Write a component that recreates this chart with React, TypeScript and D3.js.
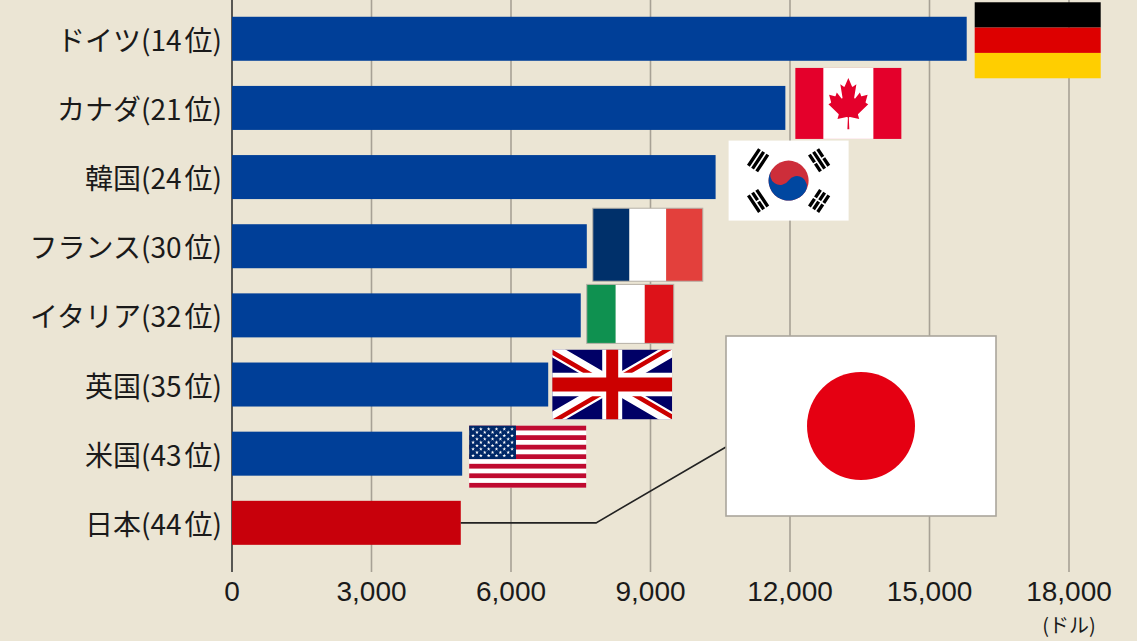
import { useEffect } from "react";
import * as d3 from "d3";

const countries = ["ドイツ", "カナダ", "韓国", "フランス", "イタリア", "英国", "米国", "日本"];
const ranks = [14, 21, 24, 30, 32, 35, 43, 44];
const values = [15800, 11900, 10400, 7630, 7500, 6800, 4950, 4920];
const flagCodes = ["de", "ca", "kr", "fr", "it", "gb", "us", "jp"];
const xTicks = [0, 3000, 6000, 9000, 12000, 15000, 18000];
const unitLabel = "(ドル)";

const W = 1137;
const H = 641;
const GRID_BOTTOM = 572;

// flag size, gap after the bar end, vertical nudge from bar centre
const flagStyle: Record<string, { w: number; h: number; gap: number; dy: number }> = {
  de: { w: 126, h: 76, gap: 8, dy: 1.5 },
  ca: { w: 106, h: 71, gap: 10, dy: -4.5 },
  kr: { w: 120, h: 80, gap: 13, dy: 3.5 },
  fr: { w: 110, h: 73, gap: 6, dy: -1.5 },
  it: { w: 87, h: 59, gap: 6, dy: -1.5 },
  gb: { w: 120, h: 70, gap: 4, dy: 0 },
  us: { w: 117, h: 62, gap: 7, dy: 3 },
};
const japanFlag = { x: 726, y: 336, w: 270, h: 180 };

const LEAF =
  "m-90 2030 45-863a95 95 0 0 0-111-98l-859 151 116-320a65 65 0 0 0-20-73l-941-762 212-99a65 65 0 0 0 34-79l-186-572 542 115a65 65 0 0 0 73-38l105-247 423 454a65 65 0 0 0 111-57l-204-1052 327 189a65 65 0 0 0 91-27l332-652 332 652a65 65 0 0 0 91 27l327-189-204 1052a65 65 0 0 0 111 57l423-454 105 247a65 65 0 0 0 73 38l542-115-186 572a65 65 0 0 0 34 79l212 99-941 762a65 65 0 0 0-20 73l116 320-859-151a95 95 0 0 0-111 98l45 863z";

function Trigram({ y0 }: { y0: number }) {
  return (
    <path
      d={[0, 3, 6].map((k) => `M-6 ${y0 + k}H6`).join("")}
      stroke="#000"
      strokeWidth={2}
    />
  );
}

function Flag({ code, w, h }: { code: string; w: number; h: number }) {
  if (code === "de") {
    return (
      <g>
        <rect width={w} height={h / 3} fill="#000" />
        <rect y={h / 3} width={w} height={h / 3} fill="#dd0000" />
        <rect y={(2 * h) / 3} width={w} height={h / 3} fill="#ffce00" />
      </g>
    );
  }
  if (code === "ca") {
    const side = w * 0.264;
    return (
      <g>
        <rect width={w} height={h} fill="#e4002b" />
        <rect x={side} width={w - 2 * side} height={h} fill="#fff" />
        <path d={LEAF} fill="#e4002b" transform={`translate(${w / 2},${h * 0.5}) scale(0.0107,0.0127)`} />
      </g>
    );
  }
  if (code === "kr") {
    return (
      <g>
        <rect width={w} height={h} fill="#fff" />
        <g transform={`translate(${w / 2},${h / 2}) scale(${w / 72},${h / 48})`}>
          <g transform="rotate(-56.31)">
            <Trigram y0={-25} />
            <Trigram y0={19} />
            <path d="M0 17v10" stroke="#fff" strokeWidth={1} />
            <circle r={12} fill="#cd2e3a" />
            <path d="M0-12A6 6 0 0 0 0 0A6 6 0 0 1 0 12A12 12 0 0 1 0-12z" fill="#0047a0" />
          </g>
          <g transform="rotate(-123.69)">
            <Trigram y0={-25} />
            <Trigram y0={19} />
            <path d="M0-23.5v3M0 17v3.5M0 23.5v3" stroke="#fff" strokeWidth={1} />
          </g>
        </g>
      </g>
    );
  }
  if (code === "fr" || code === "it") {
    const cols = code === "fr" ? ["#00306a", "#fff", "#e3403c"] : ["#0f9150", "#fff", "#dd1219"];
    return (
      <g>
        {cols.map((c, i) => (
          <rect key={i} x={(i * w) / 3} width={w / 3} height={h} fill={c} />
        ))}
        <rect width={w} height={h} fill="none" stroke="#b5b0a6" strokeWidth={1} />
      </g>
    );
  }
  if (code === "gb") {
    return (
      <g transform={`scale(${w / 60},${h / 30})`}>
        <defs>
          <clipPath id="gb-s">
            <path d="M0 0v30h60V0z" />
          </clipPath>
          <clipPath id="gb-t">
            <path d="M30 15h30v15zv15H0zH0V0zV0h30z" />
          </clipPath>
        </defs>
        <g clipPath="url(#gb-s)">
          <path d="M0 0v30h60V0z" fill="#000066" />
          <path d="M0 0L60 30M60 0L0 30" stroke="#fff" strokeWidth={6} />
          <path d="M0 0L60 30M60 0L0 30" clipPath="url(#gb-t)" stroke="#cc0000" strokeWidth={4} />
          <path d="M30 0v30M0 15h60" stroke="#fff" strokeWidth={10} />
          <path d="M30 0v30M0 15h60" stroke="#cc0000" strokeWidth={6} />
        </g>
      </g>
    );
  }
  if (code === "us") {
    const sh = h / 13;
    const cw = w * 0.4;
    const ch = sh * 7;
    const star = d3.symbol(d3.symbolStar, 4.5)() as string;
    const stars: [number, number][] = [];
    for (let r = 0; r < 9; r++) {
      const n = r % 2 === 0 ? 6 : 5;
      for (let c = 0; c < n; c++) {
        const col = r % 2 === 0 ? c * 2 + 1 : c * 2 + 2;
        stars.push([(col * cw) / 12, ((r + 1) * ch) / 10]);
      }
    }
    return (
      <g>
        <rect width={w} height={h} fill="#fff" />
        {d3.range(7).map((i) => (
          <rect key={i} y={i * 2 * sh} width={w} height={sh} fill="#bf0a30" />
        ))}
        <rect width={cw} height={ch} fill="#002868" />
        {stars.map(([sx, sy], i) => (
          <path key={i} d={star} transform={`translate(${sx},${sy})`} fill="#fff" />
        ))}
      </g>
    );
  }
  return null;
}

export default function App() {
  useEffect(() => {
    document.body.style.margin = "0";
  }, []);

  const x = d3.scaleLinear().domain([0, 18000]).range([232, 1069]);
  const y = d3
    .scaleBand<string>()
    .domain(countries)
    .range([4.2, 557.4])
    .paddingInner(0.3636)
    .paddingOuter(0.1818);
  const bw = y.bandwidth();
  const last = countries.length - 1;
  const jy = (y(countries[last]) as number) + bw / 2;

  const leader = d3.line()([
    [x(values[last]), jy],
    [x(7830), jy],
    [japanFlag.x, 447],
  ]) as string;

  return (
    <svg width={W} height={H} style={{ display: "block", background: "#ebe5d4" }}>
      <rect width={W} height={H} fill="#ebe5d4" />

      {/* grid */}
      {xTicks.slice(1).map((t) => (
        <line key={t} x1={x(t)} x2={x(t)} y1={0} y2={GRID_BOTTOM} stroke="#a7a195" strokeWidth={1.6} />
      ))}
      <line x1={x(0)} x2={x(0)} y1={0} y2={GRID_BOTTOM} stroke="#333" strokeWidth={1.6} />

      {/* bars */}
      {countries.map((c, i) => (
        <rect
          key={c}
          x={x(0)}
          y={y(c)}
          width={x(values[i]) - x(0)}
          height={bw}
          fill={i === last ? "#c8000b" : "#003f98"}
        />
      ))}

      {/* leader line to the Japanese flag */}
      <path d={leader} fill="none" stroke="#222" strokeWidth={1.6} />

      {/* flags */}
      {countries.map((c, i) => {
        const code = flagCodes[i];
        const s = flagStyle[code];
        if (!s) return null;
        const cy = (y(c) as number) + bw / 2 + s.dy;
        return (
          <g key={code} transform={`translate(${x(values[i]) + s.gap},${cy - s.h / 2})`}>
            <Flag code={code} w={s.w} h={s.h} />
          </g>
        );
      })}
      <rect
        x={japanFlag.x}
        y={japanFlag.y}
        width={japanFlag.w}
        height={japanFlag.h}
        fill="#fff"
        stroke="#aaa69c"
        strokeWidth={1.6}
      />
      <circle
        cx={japanFlag.x + japanFlag.w / 2}
        cy={japanFlag.y + japanFlag.h / 2}
        r={japanFlag.h * 0.3}
        fill="#e50012"
      />

      {/* category labels */}
      {countries.map((c, i) => (
        <text
          key={c}
          x={222}
          y={(y(c) as number) + bw / 2}
          textAnchor="end"
          dominantBaseline="central"
          fontFamily="'Noto Sans CJK JP', sans-serif"
          fontSize={28}
          fill="#1a1a1a"
        >
          {c}({ranks[i]}
          <tspan dx={3}>位</tspan>)
        </text>
      ))}

      {/* x tick labels */}
      {xTicks.map((t) => (
        <text
          key={t}
          x={x(t)}
          y={601}
          textAnchor="middle"
          fontFamily="'Liberation Sans', Arial, sans-serif"
          fontSize={28}
          fill="#1a1a1a"
        >
          {d3.format(",")(t)}
        </text>
      ))}
      <text
        x={x(18000)}
        y={633}
        textAnchor="middle"
        fontFamily="'Noto Sans CJK JP', sans-serif"
        fontSize={20}
        fill="#1a1a1a"
      >
        {unitLabel}
      </text>
    </svg>
  );
}
